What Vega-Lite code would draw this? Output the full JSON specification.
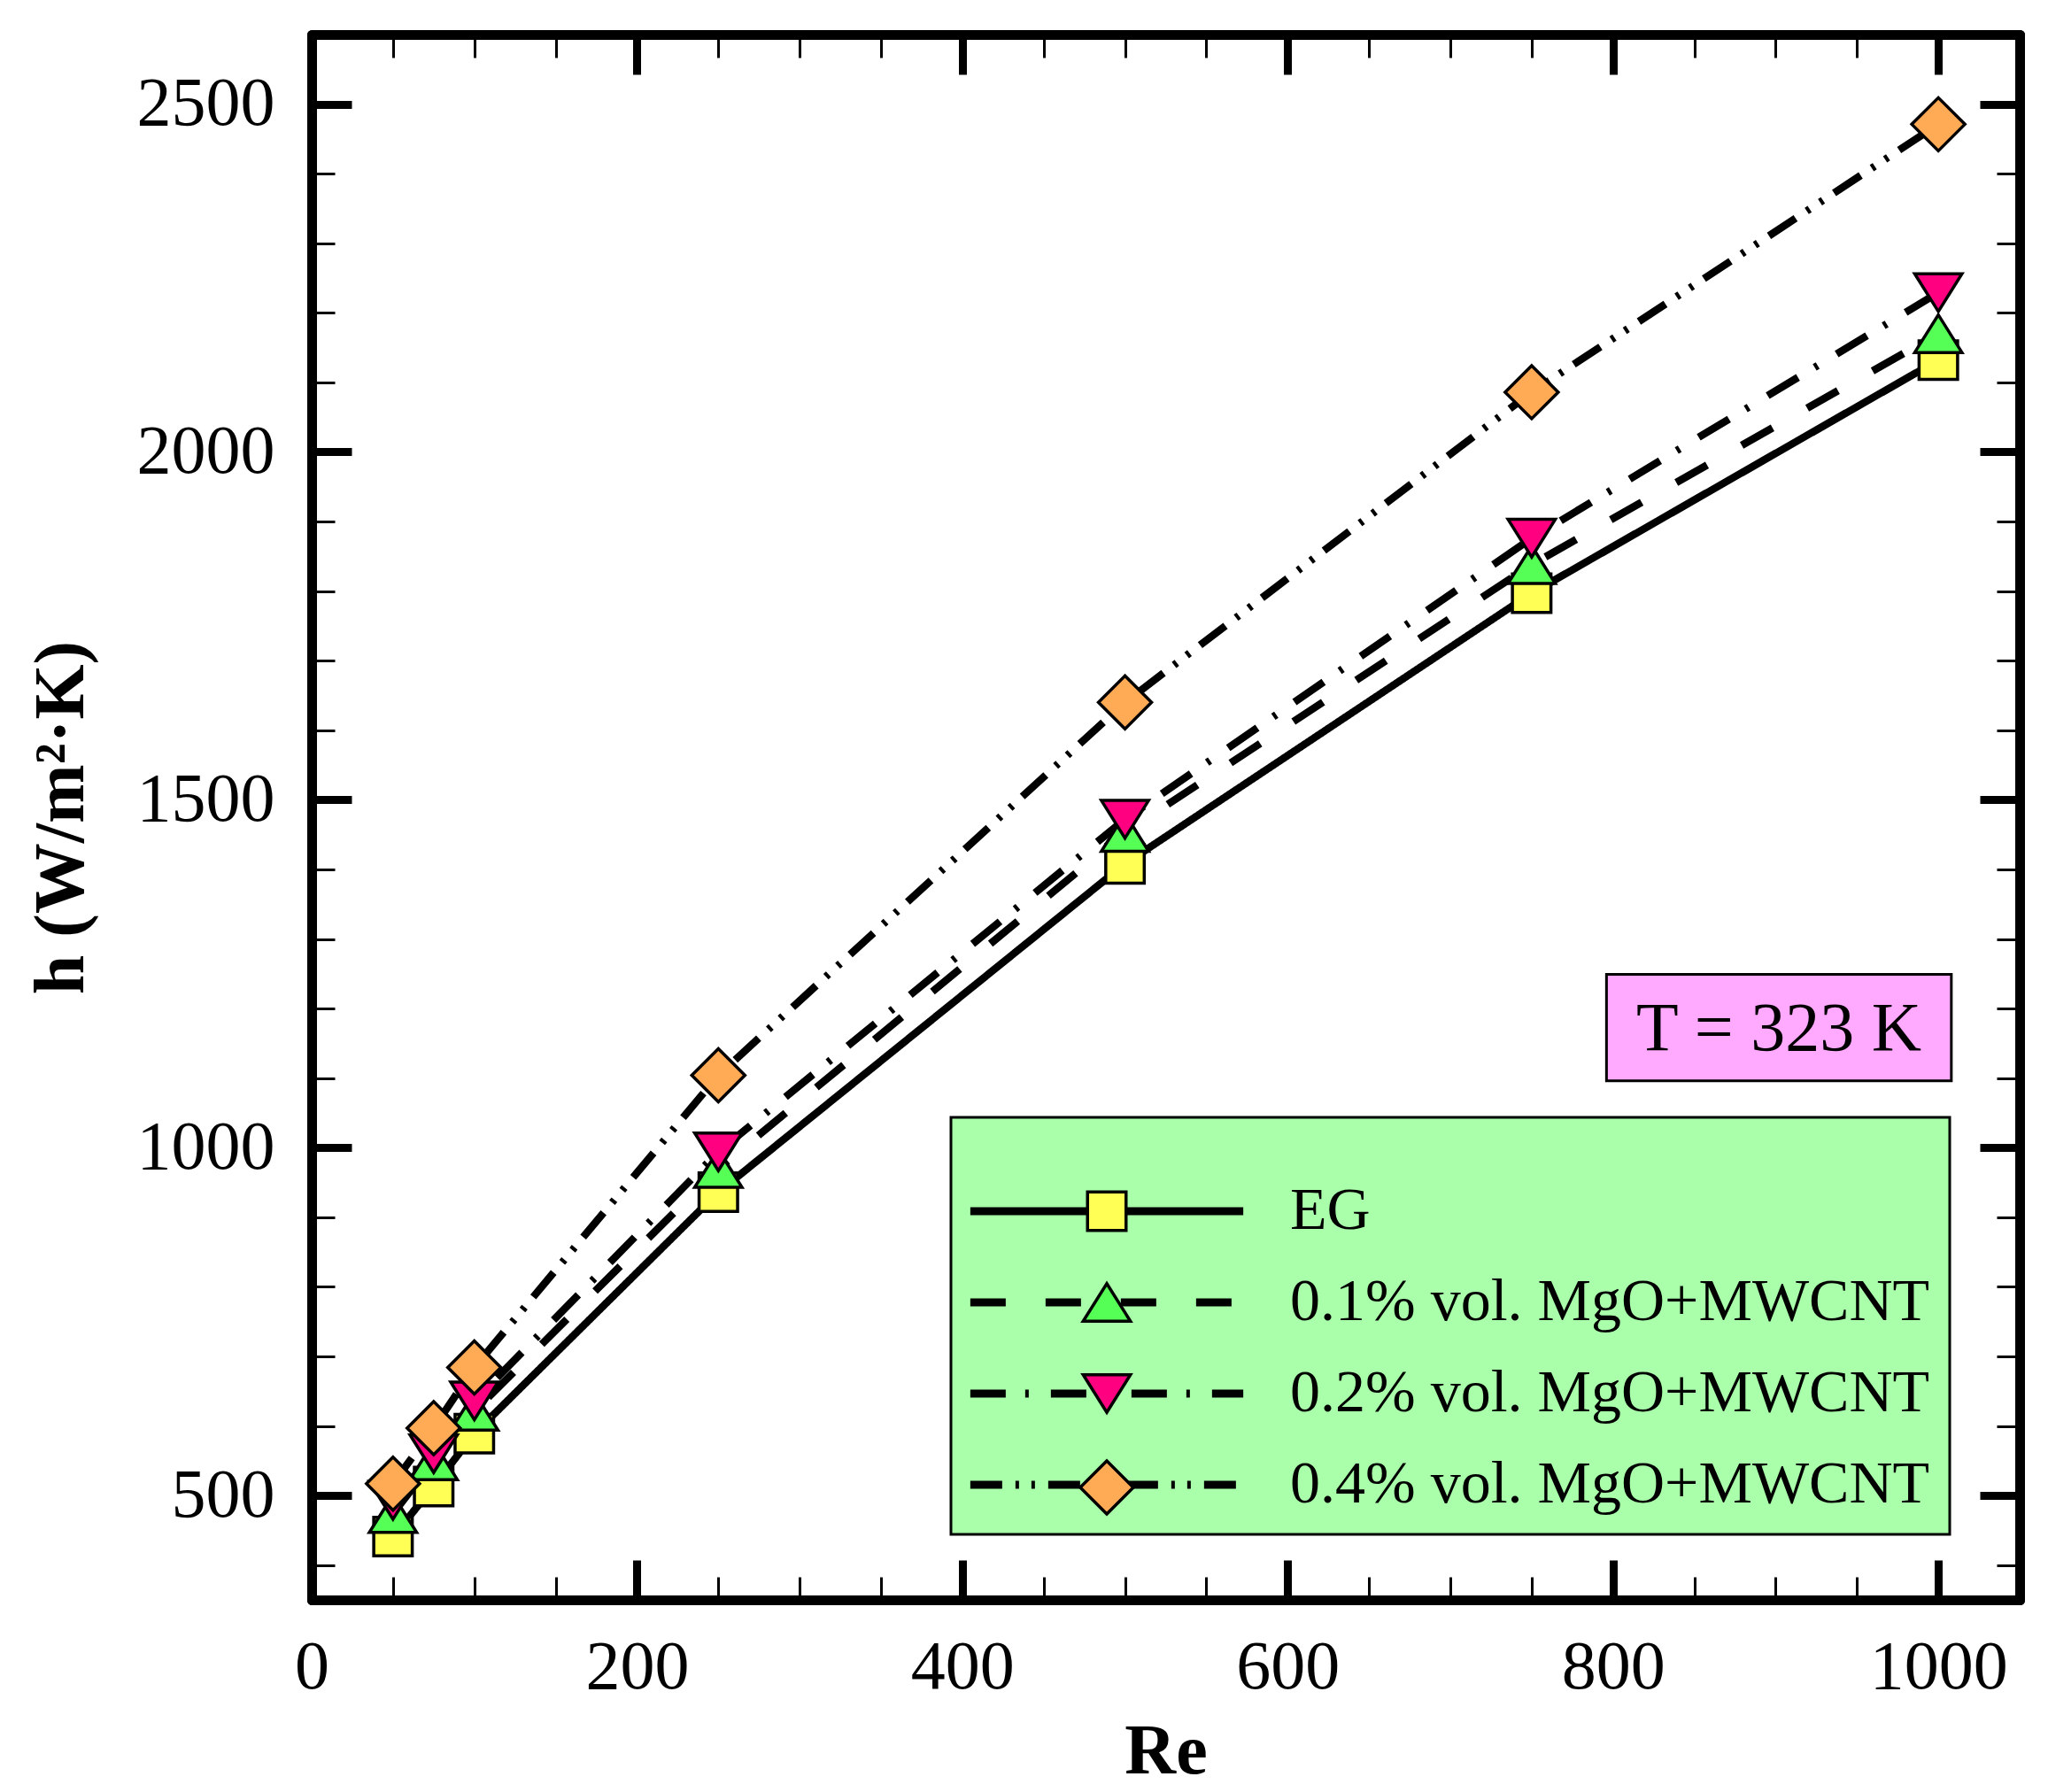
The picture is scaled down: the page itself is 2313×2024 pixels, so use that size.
{
  "$schema": "https://vega.github.io/schema/vega-lite/v6.json",
  "width": 1929,
  "height": 1768,
  "autosize": {"type": "none"},
  "padding": {"left": 352, "top": 39, "right": 32, "bottom": 217},
  "background": "white",
  "config": {"font": "Liberation Serif", "view": {"stroke": null}},
  "resolve": {"axis": {"x": "independent", "y": "independent"}},
  "layer": [
    {
      "data": {"values": [{}]},
      "mark": {"type": "rect", "fill": "#ffaaff", "stroke": "black", "strokeWidth": 3},
      "encoding": {
        "x": {"datum": 796, "type": "quantitative", "scale": {"domain": [0, 1050], "nice": false}, "axis": null},
        "x2": {"datum": 1008},
        "y": {"datum": 1249, "type": "quantitative", "scale": {"domain": [350, 2600], "nice": false}, "axis": null},
        "y2": {"datum": 1096}
      }
    },
    {
      "data": {"values": [{}]},
      "mark": {"type": "text", "text": "T = 323 K", "font": "Liberation Serif", "fontSize": 78, "color": "black", "align": "center", "baseline": "middle"},
      "encoding": {
        "x": {"datum": 902, "type": "quantitative", "scale": {"domain": [0, 1050], "nice": false}, "axis": null},
        "y": {"datum": 1170, "type": "quantitative", "scale": {"domain": [350, 2600], "nice": false}, "axis": null}
      }
    },
    {
      "data": {"name": "pts", "values": [
        {"Re": 50, "h": 441, "series": "EG"},
        {"Re": 75, "h": 513, "series": "EG"},
        {"Re": 100, "h": 589, "series": "EG"},
        {"Re": 250, "h": 936, "series": "EG"},
        {"Re": 500, "h": 1408, "series": "EG"},
        {"Re": 750, "h": 1797, "series": "EG"},
        {"Re": 1000, "h": 2132, "series": "EG"},
        {"Re": 50, "h": 474, "series": "0.1% vol. MgO+MWCNT"},
        {"Re": 75, "h": 550, "series": "0.1% vol. MgO+MWCNT"},
        {"Re": 100, "h": 621, "series": "0.1% vol. MgO+MWCNT"},
        {"Re": 250, "h": 970, "series": "0.1% vol. MgO+MWCNT"},
        {"Re": 500, "h": 1453, "series": "0.1% vol. MgO+MWCNT"},
        {"Re": 750, "h": 1838, "series": "0.1% vol. MgO+MWCNT"},
        {"Re": 1000, "h": 2170, "series": "0.1% vol. MgO+MWCNT"},
        {"Re": 50, "h": 493, "series": "0.2% vol. MgO+MWCNT"},
        {"Re": 75, "h": 560, "series": "0.2% vol. MgO+MWCNT"},
        {"Re": 100, "h": 636, "series": "0.2% vol. MgO+MWCNT"},
        {"Re": 250, "h": 994, "series": "0.2% vol. MgO+MWCNT"},
        {"Re": 500, "h": 1472, "series": "0.2% vol. MgO+MWCNT"},
        {"Re": 750, "h": 1876, "series": "0.2% vol. MgO+MWCNT"},
        {"Re": 1000, "h": 2229, "series": "0.2% vol. MgO+MWCNT"},
        {"Re": 50, "h": 517, "series": "0.4% vol. MgO+MWCNT"},
        {"Re": 75, "h": 597, "series": "0.4% vol. MgO+MWCNT"},
        {"Re": 100, "h": 684, "series": "0.4% vol. MgO+MWCNT"},
        {"Re": 250, "h": 1104, "series": "0.4% vol. MgO+MWCNT"},
        {"Re": 500, "h": 1640, "series": "0.4% vol. MgO+MWCNT"},
        {"Re": 750, "h": 2086, "series": "0.4% vol. MgO+MWCNT"},
        {"Re": 1000, "h": 2471, "series": "0.4% vol. MgO+MWCNT"}
      ]},
      "mark": {"type": "line", "color": "black", "strokeWidth": 8.5, "strokeCap": "butt"},
      "encoding": {
        "x": {
          "field": "Re", "type": "quantitative",
          "scale": {"domain": [0, 1050], "nice": false},
          "axis": {
            "orient": "bottom",
            "values": [0, 50, 100, 150, 200, 250, 300, 350, 400, 450, 500, 550, 600, 650, 700, 750, 800, 850, 900, 950, 1000],
            "format": "d",
            "labelExpr": "datum.value % 200 === 0 ? datum.label : ''",
            "labelFont": "Liberation Serif", "labelFontSize": 78, "labelColor": "black",
            "labelPadding": 82, "labelFlush": false, "labelOverlap": false,
            "tickSize": {"condition": {"test": "datum.value % 200 === 0", "value": -45}, "value": -26},
            "tickWidth": {"condition": {"test": "datum.value % 200 === 0", "value": 9}, "value": 3},
            "tickColor": "black",
            "domainColor": "black", "domainWidth": 11, "domainCap": "round",
            "grid": false,
            "title": "Re", "titleFont": "Liberation Serif", "titleFontSize": 80, "titleFontWeight": "bold", "titleColor": "black", "titlePadding": -2
          }
        },
        "y": {
          "field": "h", "type": "quantitative",
          "scale": {"domain": [350, 2600], "nice": false},
          "axis": {
            "orient": "left",
            "values": [400, 500, 600, 700, 800, 900, 1000, 1100, 1200, 1300, 1400, 1500, 1600, 1700, 1800, 1900, 2000, 2100, 2200, 2300, 2400, 2500],
            "format": "d",
            "labelExpr": "datum.value % 500 === 0 ? datum.label : ''",
            "labelFont": "Liberation Serif", "labelFontSize": 78, "labelColor": "black",
            "labelPadding": 87, "labelFlush": false, "labelOverlap": false,
            "tickSize": {"condition": {"test": "datum.value % 500 === 0", "value": -45}, "value": -26},
            "tickWidth": {"condition": {"test": "datum.value % 500 === 0", "value": 9}, "value": 3},
            "tickColor": "black",
            "domainColor": "black", "domainWidth": 11, "domainCap": "round",
            "grid": false,
            "title": "h (W/m²·K)", "titleFont": "Liberation Serif", "titleFontSize": 80, "titleFontWeight": "bold", "titleColor": "black", "titlePadding": 44
          }
        },
        "strokeDash": {
          "field": "series", "type": "nominal",
          "scale": {
            "domain": ["EG", "0.1% vol. MgO+MWCNT", "0.2% vol. MgO+MWCNT", "0.4% vol. MgO+MWCNT"],
            "range": [[1, 0], [40, 45], [40, 22, 4, 25], [36, 15, 4, 14, 4, 15]]
          },
          "legend": {
            "orient": "none", "legendX": 722, "legendY": 1223, "direction": "vertical",
            "fillColor": "#aaffaa", "strokeColor": "black", "padding": 22,
            "title": "T", "titleOpacity": 0, "titleFontSize": 40, "titlePadding": 10,
            "symbolType": "M-6,0L6,0", "symbolSize": 2640, "symbolStrokeWidth": 9, "symbolStrokeColor": "black", "symbolFillColor": "transparent", "symbolOffset": 120,
            "labelFont": "Liberation Serif", "labelFontSize": 68, "labelColor": "black", "labelLimit": 2000, "labelOffset": 173,
            "rowPadding": 35,
            "encode": {
              "legend": {"update": {"strokeWidth": {"value": 3}}},
              "symbols": {"update": {"shape": {"value": "M-6,0L6,0"}, "size": {"value": 2640}}}
            }
          }
        }
      }
    },
    {
      "data": {"name": "pts"},
      "mark": {"type": "point", "filled": true, "size": 900, "stroke": "black", "strokeWidth": 3.5, "opacity": 1},
      "encoding": {
        "x": {
          "field": "Re", "type": "quantitative",
          "scale": {"domain": [0, 1050], "nice": false},
          "axis": {
            "orient": "top",
            "values": [0, 50, 100, 150, 200, 250, 300, 350, 400, 450, 500, 550, 600, 650, 700, 750, 800, 850, 900, 950, 1000],
            "labels": false,
            "tickSize": {"condition": {"test": "datum.value % 200 === 0", "value": -45}, "value": -26},
            "tickWidth": {"condition": {"test": "datum.value % 200 === 0", "value": 9}, "value": 3},
            "tickColor": "black",
            "domainColor": "black", "domainWidth": 11, "domainCap": "round",
            "grid": false, "title": null
          }
        },
        "y": {
          "field": "h", "type": "quantitative",
          "scale": {"domain": [350, 2600], "nice": false},
          "axis": {
            "orient": "right",
            "values": [400, 500, 600, 700, 800, 900, 1000, 1100, 1200, 1300, 1400, 1500, 1600, 1700, 1800, 1900, 2000, 2100, 2200, 2300, 2400, 2500],
            "labels": false,
            "tickSize": {"condition": {"test": "datum.value % 500 === 0", "value": -45}, "value": -26},
            "tickWidth": {"condition": {"test": "datum.value % 500 === 0", "value": 9}, "value": 3},
            "tickColor": "black",
            "domainColor": "black", "domainWidth": 11, "domainCap": "round",
            "grid": false, "title": null
          }
        },
        "shape": {
          "field": "series", "type": "nominal",
          "sort": ["EG", "0.1% vol. MgO+MWCNT", "0.2% vol. MgO+MWCNT", "0.4% vol. MgO+MWCNT"],
          "scale": {
            "range": [
              "M-1.45,-1.45L1.45,-1.45L1.45,1.45L-1.45,1.45Z",
              "M0,-1.42L1.78,1.42L-1.78,1.42Z",
              "M0,1.42L1.78,-1.42L-1.78,-1.42Z",
              "M0,-2L2,0L0,2L-2,0Z"
            ]
          },
          "legend": null
        },
        "fill": {
          "field": "series", "type": "nominal",
          "sort": ["EG", "0.1% vol. MgO+MWCNT", "0.2% vol. MgO+MWCNT", "0.4% vol. MgO+MWCNT"],
          "scale": {"range": ["#ffff55", "#55ff55", "#ff0080", "#ffaa55"]},
          "legend": {
            "orient": "none", "legendX": 722, "legendY": 1223, "direction": "vertical",
            "padding": 22,
            "title": "T", "titleOpacity": 0, "titleFontSize": 40, "titlePadding": 10,
            "symbolSize": 900, "symbolStrokeWidth": 3.5, "symbolStrokeColor": "black", "symbolOpacity": 1, "symbolOffset": 120,
            "labelFont": "Liberation Serif", "labelFontSize": 68, "labelOpacity": 0, "labelLimit": 2000, "labelOffset": 173,
            "rowPadding": 35,
            "encode": {"symbols": {"update": {"shape": {"scale": "shape", "field": "value"}}}}
          }
        }
      }
    }
  ]
}
